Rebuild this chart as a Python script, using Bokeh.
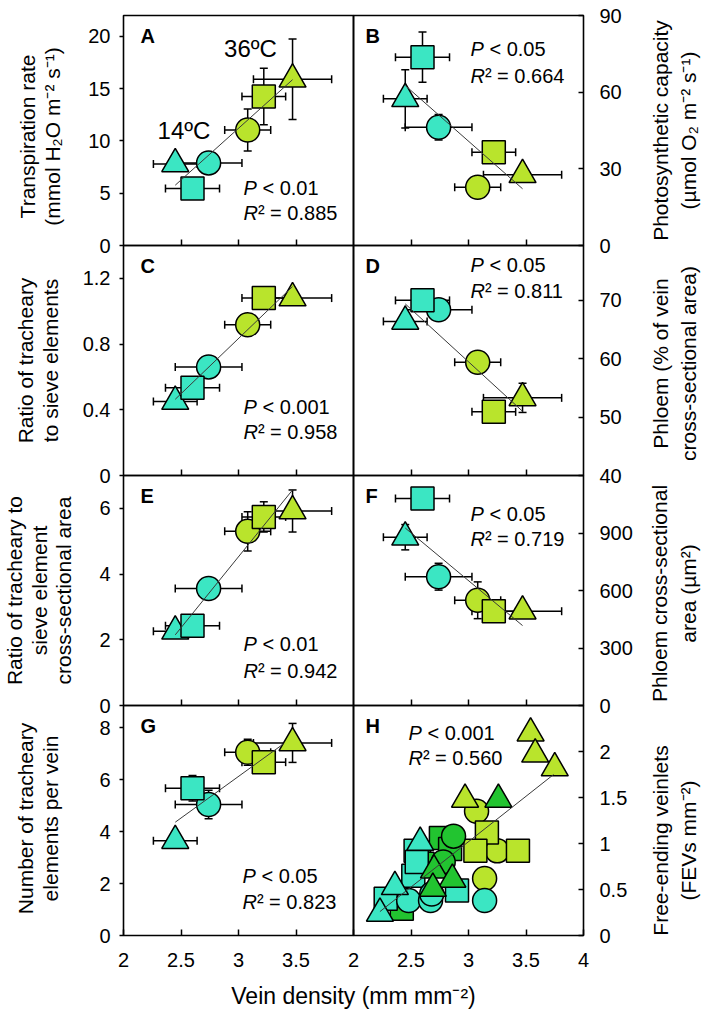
import math
from bokeh.plotting import figure
from bokeh.models import (Range1d, LinearAxis, FixedTicker, Whisker, TeeHead,
                          ColumnDataSource, BoxAnnotation, Label)
from bokeh.embed import file_html
from bokeh.resources import INLINE

# ---------------- data ----------------
# order of the six treatment means: 14ºC triangle, 14ºC circle, 14ºC square,
#                                   36ºC triangle, 36ºC circle, 36ºC square
group_marker = ["triangle", "circle", "square", "triangle", "circle", "square"]
group_temp = ["14", "14", "14", "36", "36", "36"]
vein_density = [2.45, 2.74, 2.60, 3.47, 3.08, 3.22]
vein_density_se = [0.19, 0.29, 0.235, 0.34, 0.20, 0.19]

transpiration = [7.8, 7.9, 5.45, 15.9, 11.05, 14.25]
transpiration_se = [0, 0, 0, 3.85, 2.0, 2.7]
photosynthetic_capacity = [57.4, 46.3, 73.7, 27.7, 22.8, 36.5]
photosynthetic_capacity_se = [11.4, 5.0, 9.8, 0, 0, 0]
te_to_se_ratio = [0.45, 0.661, 0.534, 1.08, 0.918, 1.08]
te_to_se_ratio_se = [0, 0, 0.03, 0, 0, 0]
phloem_percent = [66.4, 68.4, 70.0, 53.3, 59.4, 50.9]
phloem_percent_se = [0, 0, 0, 2.5, 1.5, 0]
te_to_se_area_ratio = [2.26, 3.56, 2.43, 5.92, 5.30, 5.74]
te_to_se_area_ratio_se = [0, 0, 0.1, 0.64, 0.6, 0.46]
phloem_area = [878, 672, 1080, 492, 549, 492]
phloem_area_se = [66, 70, 0, 0, 96, 0]
te_per_vein = [3.65, 5.04, 5.67, 7.41, 7.05, 6.67]
te_per_vein_se = [0, 0.55, 0.49, 0.75, 0.5, 0.2]

# regression lines (end points)
fit_A = ([2.45, 3.47], [5.77, 15.86])
fit_B = ([2.45, 3.47], [62.6, 22.2])
fit_C = ([2.45, 3.47], [0.464, 1.15])
fit_D = ([2.45, 3.47], [69.4, 51.0])
fit_E = ([2.45, 3.47], [2.15, 6.56])
fit_F = ([2.45, 3.47], [926, 417])
fit_G = ([2.45, 3.39], [4.36, 7.37])
fit_H = ([2.23, 3.74], [0.26, 1.75])

# panel H: individual free-ending veinlet values
h_cyan_tri_x = [2.58, 2.36, 2.23]
h_cyan_tri_y = [1.01, 0.53, 0.24]
h_cyan_sq_x = [2.54, 2.52, 2.90, 2.28, 2.55]
h_cyan_sq_y = [0.92, 0.65, 0.49, 0.40, 0.80]
h_cyan_circ_x = [2.48, 2.67, 3.14, 2.68]
h_cyan_circ_y = [0.38, 0.38, 0.38, 0.45]
h_green_tri_x = [2.70, 2.86, 2.69, 3.26]
h_green_tri_y = [0.71, 0.61, 0.51, 1.48]
h_green_sq_x = [2.76, 2.84, 2.57, 2.42, 2.60]
h_green_sq_y = [1.06, 0.94, 0.86, 0.29, 0.78]
h_green_circ_x = [2.87, 2.78]
h_green_circ_y = [1.08, 0.80]
h_yellow_tri_x = [3.54, 3.58, 3.75, 2.97]
h_yellow_tri_y = [2.20, 1.97, 1.82, 1.48]
h_yellow_sq_x = [3.16, 3.06, 3.43]
h_yellow_sq_y = [1.12, 0.92, 0.92]
h_yellow_circ_x = [3.07, 3.25, 3.14]
h_yellow_circ_y = [1.35, 0.92, 0.62]

x_ticks_inner = [2.5, 3, 3.5]
x_ticks_bottom_left = [2, 2.5, 3, 3.5]
x_ticks_bottom_right = [2, 2.5, 3, 3.5, 4]

# ---------------- styling / layout ----------------
W, H = 706, 1010
FONT = "Liberation Sans"
C14, C25, C36 = "#3BE6C3", "#22C430", "#B9E42C"
TEMP_COLOR = {"14": C14, "36": C36}
PX_L, PX_T, PANEL = 123, 15, 230
MSIZE = {"triangle": 27, "circle": 24, "square": 23}

panels = [
    dict(key="A", col=0, row=0, lo=0, hi=22, ticks=[0, 5, 10, 15, 20],
         y=transpiration, se=transpiration_se, fit=fit_A,
         P="< 0.01", R="= 0.885", sx=120, sy=(172, 197),
         title=["Transpiration rate", "(mmol H₂O m⁻² s⁻¹)"], tx=[27, 52], ty=136),
    dict(key="B", col=1, row=0, lo=0, hi=90, ticks=[0, 30, 60, 90],
         y=photosynthetic_capacity, se=photosynthetic_capacity_se, fit=fit_B,
         P="< 0.05", R="= 0.664", sx=117, sy=(33, 60),
         title=["Photosynthetic capacity", "(µmol O₂ m⁻² s⁻¹)"], tx=[660, 688], ty=130),
    dict(key="C", col=0, row=1, lo=0, hi=1.4, ticks=[0, 0.4, 0.8, 1.2],
         y=te_to_se_ratio, se=te_to_se_ratio_se, fit=fit_C,
         P="< 0.001", R="= 0.958", sx=120, sy=(161, 186),
         title=["Ratio of tracheary", "to sieve elements"], tx=[25, 50], ty=360),
    dict(key="D", col=1, row=1, lo=40, hi=79.4, ticks=[40, 50, 60, 70],
         y=phloem_percent, se=phloem_percent_se, fit=fit_D,
         P="< 0.05", R="= 0.811", sx=117, sy=(19, 45),
         title=["Phloem (% of vein", "cross-sectional area)"], tx=[660, 688], ty=363),
    dict(key="E", col=0, row=2, lo=0, hi=7, ticks=[0, 2, 4, 6],
         y=te_to_se_area_ratio, se=te_to_se_area_ratio_se, fit=fit_E,
         P="< 0.01", R="= 0.942", sx=120, sy=(168, 195),
         title=["Ratio of tracheary to", "sieve element", "cross-sectional area"],
         tx=[14, 38.5, 63], ty=590),
    dict(key="F", col=1, row=2, lo=0, hi=1200, ticks=[0, 300, 600, 900],
         y=phloem_area, se=phloem_area_se, fit=fit_F,
         P="< 0.05", R="= 0.719", sx=117, sy=(38, 63),
         title=["Phloem cross-sectional", "area (µm²)"], tx=[659, 688], ty=593),
    dict(key="G", col=0, row=3, lo=0, hi=8.85, ticks=[0, 2, 4, 6, 8],
         y=te_per_vein, se=te_per_vein_se, fit=fit_G,
         P="< 0.05", R="= 0.823", sx=119, sy=(170, 196),
         title=["Number of tracheary", "elements per vein"], tx=[25, 50], ty=818),
    dict(key="H", col=1, row=3, lo=0, hi=2.5, ticks=[0, 0.5, 1, 1.5, 2],
         y=None, se=None, fit=fit_H,
         P="< 0.001", R="= 0.560", sx=55, sy=(27, 52),
         title=["Free-ending veinlets", "(FEVs mm⁻²)"], tx=[660, 688], ty=840),
]


def x_range_for(col):
    k = PANEL / 2.0
    start = 2.0 - (PX_L + PANEL * col) / k
    return Range1d(start, start + W / k)


def y_range_for(row, lo, hi):
    k = PANEL / (hi - lo)
    end = hi + (PX_T + PANEL * row) / k
    return Range1d(end - H / k, end)


p = figure(width=W, height=H, x_range=x_range_for(0),
           y_range=y_range_for(0, panels[0]["lo"], panels[0]["hi"]),
           toolbar_location=None, output_backend="svg", min_border=0,
           x_axis_location=None, y_axis_location=None,
           outline_line_color=None, background_fill_color="white",
           border_fill_color="white")
p.extra_x_ranges = {"right": x_range_for(1)}
p.extra_y_ranges = {pn["key"]: y_range_for(pn["row"], pn["lo"], pn["hi"]) for pn in panels}
for g in p.grid:
    g.visible = False


def txt(x, y, text, size, align="left", baseline="middle", angle=0.0, style="normal"):
    p.add_layout(Label(x=x, y=H - y, x_units="screen", y_units="screen", text=text,
                       angle=angle, text_font=FONT, text_font_size=f"{size}px",
                       text_font_style=style, text_align=align,
                       text_baseline=baseline, text_color="#000000"))


def axis(side, xname, yname, loc, ticks, labels, tick_in, tick_out, standoff):
    ax = LinearAxis(x_range_name=xname, y_range_name=yname, fixed_location=loc,
                    ticker=FixedTicker(ticks=ticks, minor_ticks=[]),
                    axis_line_color=None, major_tick_line_color="black",
                    major_tick_line_width=1.5, minor_tick_line_color=None,
                    major_tick_in=tick_in, major_tick_out=tick_out,
                    major_label_standoff=standoff,
                    major_label_text_font=FONT, major_label_text_font_size="20px",
                    major_label_text_color="black",
                    major_label_overrides={t: (f"{t:g}" if labels else "") for t in ticks})
    p.add_layout(ax, side)


bar_head = dict(size=8, line_color="black", line_width=1.5)

for pn in panels:
    key, col, row = pn["key"], pn["col"], pn["row"]
    xname = "default" if col == 0 else "right"
    rn = dict(x_range_name=xname, y_range_name=key)
    px0, py0 = PX_L + PANEL * col, PX_T + PANEL * row

    # frame of the panel
    p.add_layout(BoxAnnotation(left=2, right=4, bottom=pn["lo"], top=pn["hi"],
                               fill_color=None, fill_alpha=0, line_color="black",
                               line_alpha=1.0, line_width=1.6, **rn))

    # axes
    if col == 0:
        axis("left", xname, key, 2, pn["ticks"], True, 0, 4, 9)
    else:
        axis("right", xname, key, 4, pn["ticks"], True, 5, 0, 16)
    if row == 3:
        bt = x_ticks_bottom_left if col == 0 else x_ticks_bottom_right
        axis("below", xname, key, pn["lo"], bt, True, 6, 0, 17)
    else:
        axis("below", xname, key, pn["lo"], x_ticks_inner, False, 6, 0, 17)

    if pn["y"] is not None:
        ys, se = pn["y"], pn["se"]
        src = ColumnDataSource(dict(
            x=vein_density, y=ys,
            xl=[a - b for a, b in zip(vein_density, vein_density_se)],
            xu=[a + b for a, b in zip(vein_density, vein_density_se)],
            marker=group_marker, size=[MSIZE[m] for m in group_marker],
            color=[TEMP_COLOR[t] for t in group_temp]))
        p.add_layout(Whisker(source=src, base="y", lower="xl", upper="xu",
                             dimension="width", line_color="black", line_width=1.5,
                             upper_head=TeeHead(**bar_head),
                             lower_head=TeeHead(**bar_head), **rn))
        idx = [i for i in range(len(ys)) if se[i] > 0]
        vsrc = ColumnDataSource(dict(
            x=[vein_density[i] for i in idx],
            yl=[ys[i] - se[i] for i in idx],
            yu=[ys[i] + se[i] for i in idx]))
        p.add_layout(Whisker(source=vsrc, base="x", lower="yl", upper="yu",
                             dimension="height", line_color="black", line_width=1.5,
                             upper_head=TeeHead(**bar_head),
                             lower_head=TeeHead(**bar_head), **rn))
        p.scatter("x", "y", marker="marker", size="size", fill_color="color",
                  line_color="black", line_width=1.5, source=src, **rn)
    else:
        h_sets = [
            (h_yellow_circ_x, h_yellow_circ_y, "circle", C36),
            (h_yellow_sq_x, h_yellow_sq_y, "square", C36),
            (h_green_sq_x, h_green_sq_y, "square", C25),
            (h_green_circ_x, h_green_circ_y, "circle", C25),
            (h_cyan_sq_x, h_cyan_sq_y, "square", C14),
            (h_cyan_circ_x, h_cyan_circ_y, "circle", C14),
            (h_cyan_tri_x, h_cyan_tri_y, "triangle", C14),
            (h_green_tri_x, h_green_tri_y, "triangle", C25),
            (h_yellow_tri_x, h_yellow_tri_y, "triangle", C36),
        ]
        for hx, hy, mk, colr in h_sets:
            p.scatter(hx, hy, marker=mk, size=MSIZE[mk], fill_color=colr,
                      line_color="black", line_width=1.5, **rn)

    # regression line
    p.line(pn["fit"][0], pn["fit"][1], line_color="#3a3a3a", line_width=1, **rn)

    # panel letter
    txt(px0 + (17 if col == 0 else 12), py0 + 20.5, key, 20, style="bold")
    # statistics
    sx = px0 + pn["sx"]
    txt(sx, py0 + pn["sy"][0], "P", 20, style="italic")
    txt(sx + 18.9, py0 + pn["sy"][0], pn["P"], 20)
    txt(sx, py0 + pn["sy"][1], "R", 20, style="italic")
    txt(sx + 14.4, py0 + pn["sy"][1], "² " + pn["R"], 20)
    # axis title (rotated)
    for line, lx in zip(pn["title"], pn["tx"]):
        txt(lx, pn["ty"], line, 21, align="center", angle=math.pi / 2)

# temperature labels in panel A
txt(PX_L + 127, PX_T + 33, "36ºC", 24, align="center")
txt(PX_L + 60.5, PX_T + 115, "14ºC", 24, align="center")

# common x-axis title
txt(PX_L + PANEL, 995, "Vein density (mm mm⁻²)", 23, align="center")

open("out.html", "w").write(file_html(p, INLINE))
